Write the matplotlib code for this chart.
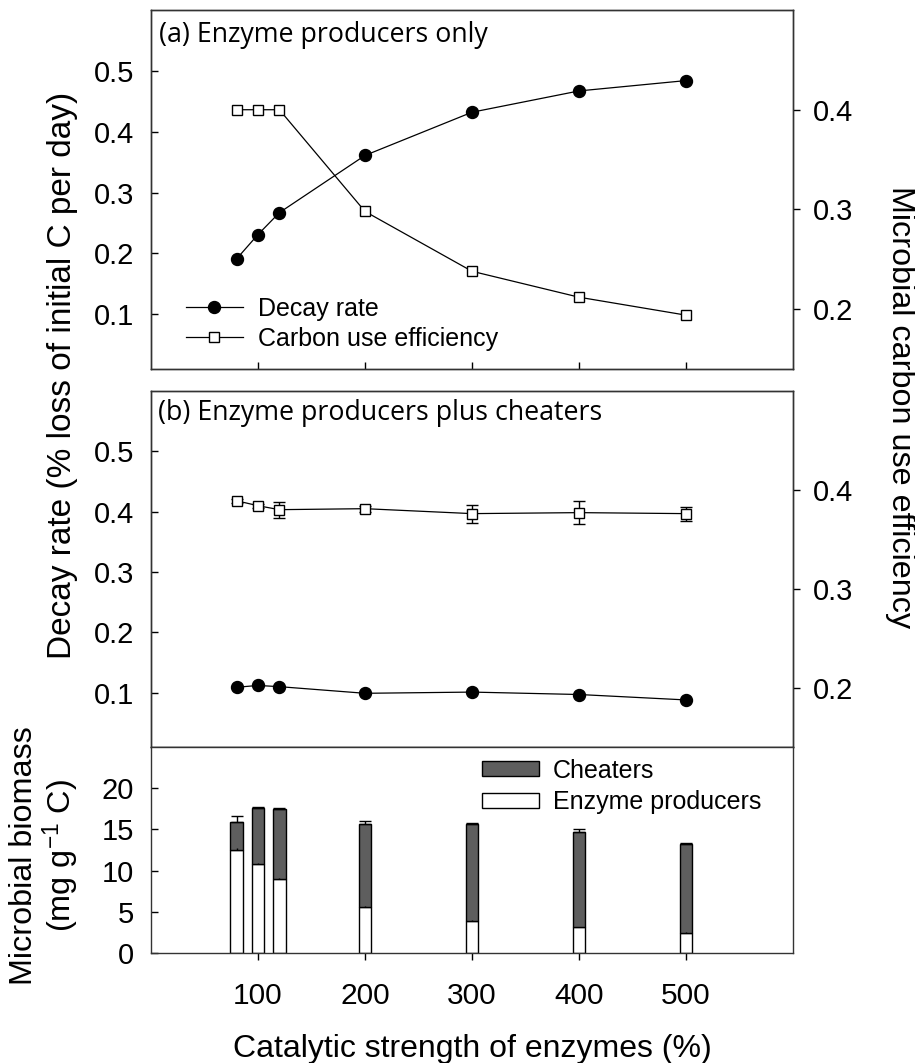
import matplotlib
matplotlib.use("Agg")
import matplotlib.pyplot as plt
from matplotlib import font_manager
from matplotlib.lines import Line2D
from matplotlib.patches import Patch
import numpy as np

plt.rcParams['font.family'] = ['Liberation Sans', 'DejaVu Sans']
plt.rcParams['mathtext.fontset'] = 'custom'
plt.rcParams['mathtext.rm'] = 'Liberation Sans'
plt.rcParams['mathtext.default'] = 'regular'

names = set(f.name for f in font_manager.fontManager.ttflist)
title_font = 'Open Sans' if 'Open Sans' in names else 'Liberation Sans'

# catalytic strength (%)
strength = [80, 100, 120, 200, 300, 400, 500]

# (a) enzyme producers only
decay_a = [0.191, 0.231, 0.267, 0.361, 0.432, 0.467, 0.484]
cue_a = [0.400, 0.400, 0.400, 0.298, 0.238, 0.212, 0.194]

# (b) producers plus cheaters
decay_b = [0.109, 0.112, 0.110, 0.099, 0.101, 0.097, 0.088]
cue_b = [0.389, 0.384, 0.380, 0.381, 0.376, 0.377, 0.376]
cue_b_err = [0.002, 0.002, 0.008, 0.003, 0.009, 0.012, 0.007]

# (c) biomass, mg g-1 C
producers = [12.5, 10.8, 9.0, 5.6, 3.9, 3.1, 2.4]
producers_err = [0.3, 0.1, 0.1, 0.1, 0.1, 0.1, 0.1]
cheaters = [3.4, 6.8, 8.5, 10.1, 11.8, 11.6, 10.8]
total_err = [0.7, 0.1, 0.1, 0.35, 0.1, 0.35, 0.2]

W, H = 915, 1063
L, R = 151, 793
DARK = '#5e5e5e'


def box(top, bottom):
    return [L / W, 1 - bottom / H, (R - L) / W, (bottom - top) / H]


def style_spines(ax):
    for s in ax.spines.values():
        s.set_linewidth(1.0)
        s.set_color('#333333')


def style_left(ax):
    ax.set_xlim(0, 600)
    ax.set_ylim(0.01, 0.6)
    ax.set_yticks([0.1, 0.2, 0.3, 0.4, 0.5])
    ax.set_yticklabels(['0.1', '0.2', '0.3', '0.4', '0.5'])
    ax.tick_params(axis='y', direction='in', length=5, width=1, labelsize=21, pad=12)
    style_spines(ax)


def style_right(ax2):
    ax2.set_ylim(0.14, 0.5)
    ax2.set_yticks([0.2, 0.3, 0.4])
    ax2.set_yticklabels(['0.2', '0.3', '0.4'])
    ax2.tick_params(axis='y', direction='out', length=5, width=1, labelsize=21, pad=9)
    style_spines(ax2)


def plotLines(ax, ax2, decay, cue, err=None):
    ax.plot(strength, decay, c='k', lw=0.9, marker='o', ms=8.6, mfc='k', mec='k', zorder=3)
    if err is None:
        ax2.plot(strength, cue, c='k', lw=0.9, marker='s', ms=6.5, mfc='w', mec='k', mew=1.0, zorder=3)
    else:
        ax2.errorbar(strength, cue, yerr=err, c='k', lw=0.9, marker='s', ms=6.5, mfc='w', mec='k',
                     mew=1.0, capsize=4.5, elinewidth=1.0, capthick=1.0, zorder=3)


fig = plt.figure(figsize=(9.15, 10.63), dpi=100)

# panel (a)
ax_a = fig.add_axes(box(10, 369))
ax_a2 = ax_a.twinx()
style_left(ax_a)
style_right(ax_a2)
plotLines(ax_a, ax_a2, decay_a, cue_a)
ax_a.set_xticks([100, 200, 300, 400, 500])
ax_a.tick_params(axis='x', direction='in', length=5, width=1, labelbottom=False)
ax_a.text(0.013, 0.93, '(a) Enzyme producers only', transform=ax_a.transAxes,
          fontsize=19.3, family=title_font, va='center', ha='left')
handles = [Line2D([], [], c='k', lw=0.9, marker='o', ms=8.6, mfc='k', mec='k'),
           Line2D([], [], c='k', lw=0.9, marker='s', ms=6.5, mfc='w', mec='k')]
ax_a.legend(handles, ['Decay rate', 'Carbon use efficiency'], loc='lower left',
            bbox_to_anchor=(0.054, 0.05), frameon=False, borderpad=0, borderaxespad=0,
            handlelength=2.28, handletextpad=0.6, labelspacing=0.25, fontsize=18)

# panel (b)
ax_b = fig.add_axes(box(391, 747))
ax_b2 = ax_b.twinx()
style_left(ax_b)
style_right(ax_b2)
plotLines(ax_b, ax_b2, decay_b, cue_b, cue_b_err)
ax_b.set_xticks([])
ax_b.text(0.011, 0.938, '(b) Enzyme producers plus cheaters', transform=ax_b.transAxes,
          fontsize=19.3, family=title_font, va='center', ha='left')

# panel (c)
ax_c = fig.add_axes(box(747, 953))
ax_c.bar(strength, producers, width=12, color='w', edgecolor='k', lw=1.0,
         yerr=[np.zeros(len(strength)), producers_err], error_kw=dict(lw=1.0, capsize=0),
         zorder=2)
ax_c.bar(strength, cheaters, width=12, bottom=producers, color=DARK, edgecolor='k', lw=1.0,
         yerr=[np.zeros(len(strength)), total_err], error_kw=dict(lw=1.0, capsize=4, capthick=1.0),
         zorder=2)
ax_c.set_xlim(0, 600)
ax_c.set_ylim(0, 25)
ax_c.set_yticks([0, 5, 10, 15, 20])
ax_c.set_xticks([100, 200, 300, 400, 500])
ax_c.tick_params(axis='y', direction='in', length=5, width=1, labelsize=21, pad=12)
ax_c.tick_params(axis='x', direction='out', length=5, width=1, labelsize=21.5, pad=16)
style_spines(ax_c)
ax_c.set_xlabel('Catalytic strength of enzymes (%)', fontsize=23, labelpad=17)
hc = [Patch(facecolor=DARK, edgecolor='k', lw=1.0), Patch(facecolor='w', edgecolor='k', lw=1.0)]
ax_c.legend(hc, ['Cheaters', 'Enzyme producers'], loc='upper left', bbox_to_anchor=(0.5156, 0.944),
            frameon=False, borderpad=0, borderaxespad=0, handlelength=2.28, handleheight=0.56,
            handletextpad=0.56, labelspacing=0.3, fontsize=18)

# axis titles
fig.text(0.068, 0.647, 'Decay rate (% loss of initial C per day)', rotation=90,
         fontsize=24, va='center', ha='center')
fig.text(0.9836, 0.617, 'Microbial carbon use efficiency', rotation=270,
         fontsize=23.3, va='center', ha='center')
fig.text(0.05, 0.195, 'Microbial biomass\n(mg g$^{\\mathregular{-1}}$ C)', rotation=90, fontsize=23.3,
         va='center', ha='center', multialignment='center', linespacing=1.05)

fig.savefig('out.png', dpi=100)
